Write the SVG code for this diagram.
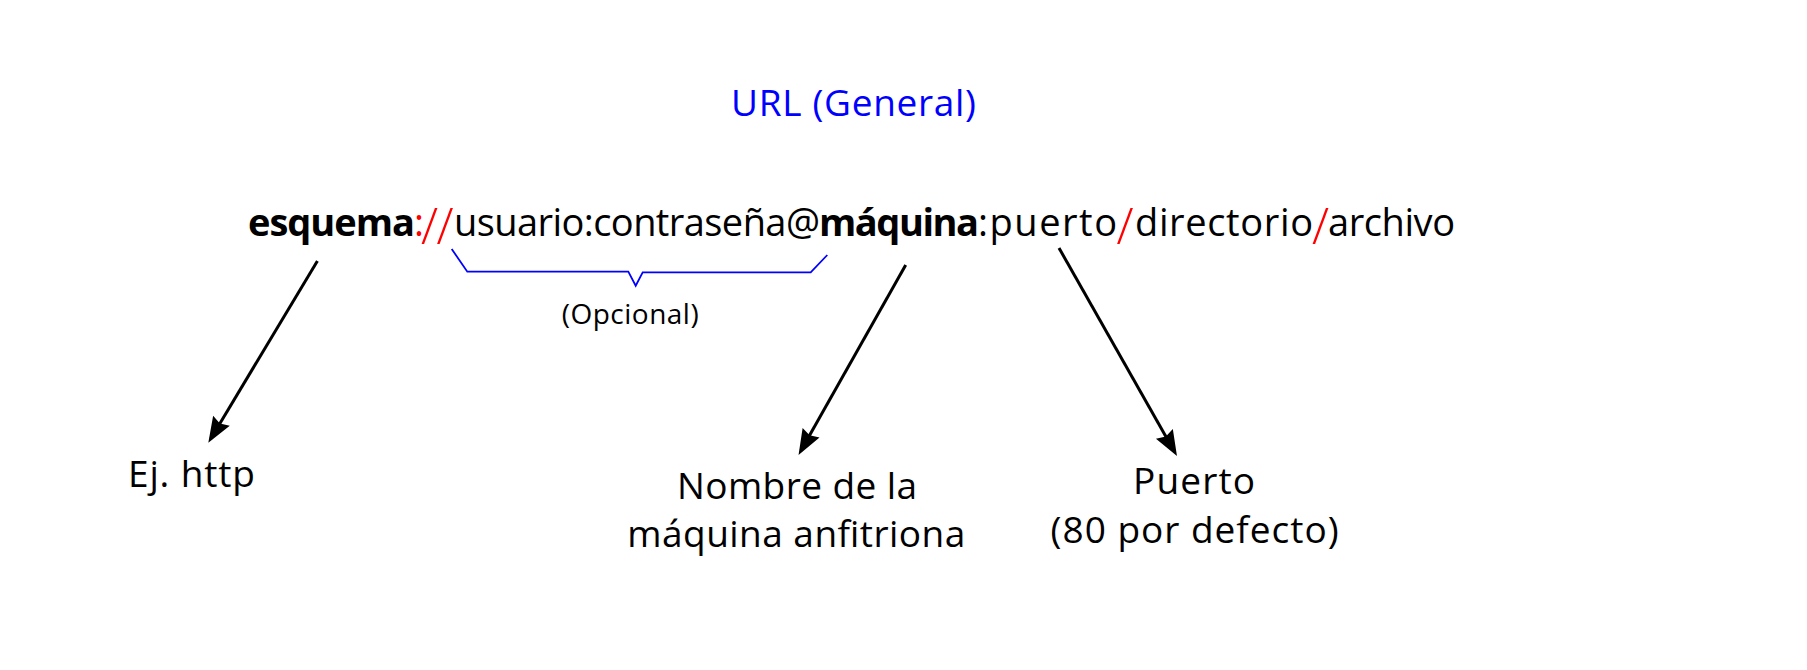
<svg xmlns="http://www.w3.org/2000/svg" width="1807" height="670" viewBox="0 0 1807 670">
<style>
text{font-family:"Open Sans","Noto Sans","Liberation Sans",sans-serif;fill:#000}
.t{font-size:38px}
.ti{font-size:37px;fill:#0000ff}
.b{font-weight:bold}
.r{fill:#ff0000}
.sl{font-size:50px;font-weight:300;fill:#ff0000}
.lbl{font-size:37px;text-anchor:middle}
.conn{stroke:#000;stroke-width:3;fill:none}
</style>
<defs>
<marker id="ah" markerUnits="userSpaceOnUse" orient="auto" markerWidth="40" markerHeight="30" viewBox="-25 -15 40 30" refX="0" refY="0" overflow="visible">
<path d="M5,0 L-20.5,-9.7 L-17.5,0 L-20.5,9.7 Z" fill="#000"/>
</marker>
</defs>
<rect width="1807" height="670" fill="#fff"/>
<g id="title">
<text class="ti" x="731" y="116" textLength="245">URL (General)</text>
</g>
<g id="url">
<text class="t" y="236"><tspan class="b" x="248" textLength="167">esquema</tspan><tspan class="r" x="414">:</tspan><tspan class="sl" x="421" y="244">/</tspan><tspan class="sl" x="436.5" y="244">/</tspan><tspan x="454" y="236" textLength="366">usuario:contraseña@</tspan><tspan class="b" x="819" textLength="160">máquina</tspan><tspan x="978" textLength="139">:puerto</tspan><tspan class="sl" x="1116.5" y="244">/</tspan><tspan x="1135" y="236" textLength="178">directorio</tspan><tspan class="sl" x="1312" y="244">/</tspan><tspan x="1328" y="236" textLength="127">archivo</tspan></text>
</g>
<g id="optional">
<path d="M451.7,249 L467.3,271.7 L628.3,271.7 L635.7,285.7 L642.7,272.3 L810.7,272.3 L827.3,255" fill="none" stroke="#0000ff" stroke-width="1.8"/>
<text x="630.2" y="323.5" style="font-size:28px;text-anchor:middle" textLength="137">(Opcional)</text>
</g>
<g id="connectors">
<line class="conn" x1="317.4" y1="261" x2="210.9" y2="438.4" marker-end="url(#ah)"/>
<line class="conn" x1="905.7" y1="265" x2="801" y2="450.6" marker-end="url(#ah)"/>
<line class="conn" x1="1059" y1="248" x2="1174.5" y2="451.7" marker-end="url(#ah)"/>
</g>
<g id="scheme-label">
<text class="lbl" x="191.5" y="486.7" textLength="127">Ej. http</text>
</g>
<g id="host-label">
<text class="lbl" x="797" y="498.5" textLength="240">Nombre de la</text>
<text class="lbl" x="796.3" y="546.7" textLength="338">máquina anfitriona</text>
</g>
<g id="port-label">
<text class="lbl" x="1194" y="493.5" textLength="122">Puerto</text>
<text class="lbl" x="1194.6" y="542.5" textLength="288">(80 por defecto)</text>
</g>
</svg>
